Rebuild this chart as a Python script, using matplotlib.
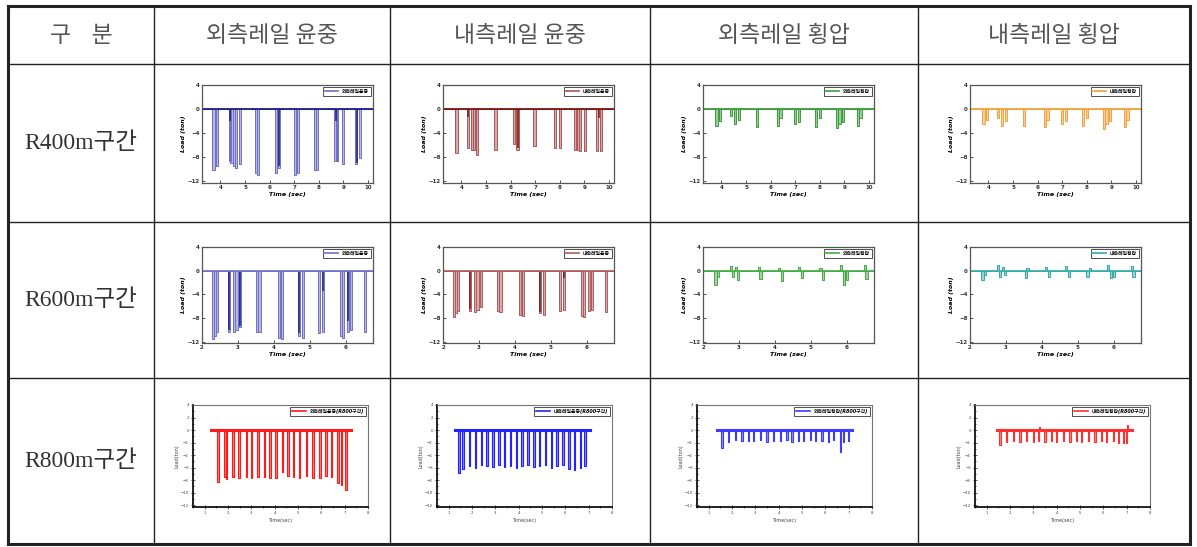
import matplotlib
matplotlib.use("Agg")
import matplotlib.pyplot as plt
from matplotlib.ticker import MultipleLocator

plt.rcParams['font.family'] = ['DejaVu Sans', 'Noto Sans CJK KR']

# --- TABLE TEXT ---
col_headers = ['구    분', '외측레일 윤중', '내측레일 윤중', '외측레일 횡압', '내측레일 횡압']
row_headers = ['R400m구간', 'R600m구간', 'R800m구간']
legend_labels = [
    ['외측레일윤중', '내측레일윤중', '외측레일횡압', '내측레일횡압'],
    ['외측레일윤중', '내측레일윤중', '외측레일횡압', '내측레일횡압'],
    ['외측레일윤중(R800구간)', '내측레일윤중(R800구간)', '외측레일횡압(R800구간)', '내측레일횡압(R800구간)'],
]

# --- DATA: spike times (sec) and peak loads (ton) ---
# R400
r400_out_t = [3.72, 3.86, 4.38, 4.45, 4.55, 4.62, 4.78, 5.45, 5.52, 6.27, 6.37, 7.02, 7.15,
              7.85, 7.93, 8.68, 8.75, 8.97, 9.52, 9.66]
r400_out_d = [-10.2, -9.6, -8.8, -9.0, -9.6, -9.9, -9.3, -10.8, -11.1, -10.8, -9.9, -11.1, -10.8,
              -10.2, -10.2, -8.8, -8.8, -9.3, -9.3, -8.2]
r400_out_core_t = [4.38, 6.37, 8.70, 9.54]
r400_out_core_d = [-2.0, -9.6, -2.0, -9.0]

r400_in_t = [3.80, 4.28, 4.42, 4.50, 4.62, 5.38, 6.14, 6.28, 6.97, 7.80, 8.00, 8.62, 8.75,
             8.83, 9.03, 9.52, 9.66]
r400_in_d = [-7.4, -6.5, -6.8, -6.8, -7.7, -6.8, -5.9, -6.8, -6.2, -6.5, -6.5, -6.8, -6.8,
             -7.1, -7.1, -7.1, -7.1]
r400_in_core_t = [4.28, 6.28, 9.60]
r400_in_core_d = [-1.4, -6.6, -1.5]

r400_olat_t = [3.80, 3.95, 4.40, 4.55, 4.70, 5.45, 6.30, 6.40, 7.00, 7.15, 7.85, 8.00, 8.70,
               8.80, 8.95, 9.55, 9.65]
r400_olat_d = [-2.8, -2.0, -1.2, -2.6, -1.8, -3.0, -2.8, -1.6, -2.6, -2.2, -3.0, -1.5, -3.2,
               -2.6, -2.2, -2.8, -1.6]

r400_ilat_t = [3.80, 3.95, 4.40, 4.55, 4.70, 5.45, 6.30, 6.40, 7.00, 7.15, 7.85, 8.00, 8.70,
               8.80, 8.95, 9.55, 9.65]
r400_ilat_d = [-2.6, -1.8, -1.5, -2.8, -2.0, -2.8, -3.0, -1.8, -2.5, -2.0, -2.8, -1.6, -3.3,
               -2.5, -2.0, -3.0, -1.8]

# R600
r600_out_t = [2.30, 2.36, 2.42, 2.75, 2.90, 2.96, 3.06, 3.53, 3.60, 4.14, 4.22, 4.69, 4.81,
              5.25, 5.37, 5.86, 5.93, 6.06, 6.15, 6.53]
r600_out_d = [-11.6, -11.0, -10.3, -10.3, -10.3, -10.0, -9.5, -10.3, -10.3, -11.3, -11.5, -11.0, -11.3,
              -10.5, -10.3, -11.0, -11.3, -10.3, -10.0, -10.3]
r600_out_core_t = [2.75, 3.06, 4.69, 5.37, 6.06]
r600_out_core_d = [-10.0, -9.3, -10.5, -3.5, -8.5]

r600_in_t = [2.30, 2.36, 2.42, 2.75, 2.90, 2.96, 3.06, 3.53, 3.60, 4.14, 4.22, 4.69, 4.81,
             5.25, 5.37, 5.86, 5.93, 6.06, 6.15, 6.53]
r600_in_d = [-7.8, -7.2, -6.8, -6.8, -7.0, -6.6, -6.2, -6.8, -7.0, -7.5, -7.6, -7.2, -7.4,
             -6.8, -6.6, -7.6, -7.8, -6.8, -6.6, -7.0]
r600_in_core_t = [2.75, 4.69, 5.37]
r600_in_core_d = [-6.5, -7.0, -1.2]

r600_olat_t = [2.35, 2.42, 2.78, 2.83, 2.92, 2.98, 3.55, 3.60, 4.12, 4.20, 4.68, 4.75, 5.27,
               5.35, 5.85, 5.92, 6.02, 6.50, 6.55]
r600_olat_d = [-2.4, -1.0, 0.8, -1.0, 0.6, -1.5, 0.6, -1.4, 0.5, -1.8, 0.6, -1.2, 0.4,
               -1.5, 0.9, -2.4, -1.6, 1.0, -1.4]

r600_ilat_t = [2.35, 2.42, 2.78, 2.83, 2.92, 2.98, 3.55, 3.60, 4.12, 4.20, 4.68, 4.75, 5.27,
               5.35, 5.85, 5.92, 6.02, 6.50, 6.55]
r600_ilat_d = [-1.6, -0.8, 0.9, -1.0, 0.6, -0.8, -1.2, 0.5, 0.6, -1.0, 0.8, -1.0, -1.0,
               0.4, 0.9, -1.2, -1.0, 0.8, -1.0]

# R800
r800_out_t = [1.57, 1.86, 1.93, 2.21, 2.47, 2.79, 3.00, 3.29, 3.57, 3.81, 4.07, 4.33, 4.57,
              4.81, 5.07, 5.36, 5.64, 5.93, 6.19, 6.43, 6.71, 6.86, 7.07]
r800_out_d = [-8.3, -7.5, -7.8, -7.5, -7.6, -7.5, -7.6, -7.5, -7.5, -7.6, -7.6, -6.7, -7.4,
              -7.5, -7.6, -7.4, -7.6, -7.6, -7.4, -7.5, -8.5, -8.8, -9.6]

r800_in_t = [1.45, 1.62, 1.90, 2.15, 2.40, 2.65, 2.90, 3.15, 3.40, 3.65, 3.90, 4.15, 4.40,
             4.65, 4.90, 5.15, 5.40, 5.65, 5.90, 6.15, 6.40, 6.65, 6.85]
r800_in_d = [-6.8, -6.2, -5.8, -6.0, -5.6, -5.8, -5.9, -5.6, -5.9, -5.7, -6.0, -5.7, -5.6,
             -5.9, -5.8, -5.6, -6.0, -5.8, -5.6, -6.2, -6.4, -6.0, -5.8]

r800_olat_t = [1.57, 1.86, 2.14, 2.43, 2.71, 2.93, 3.21, 3.50, 3.79, 4.07, 4.36, 4.57, 4.86,
               5.07, 5.36, 5.57, 5.86, 6.14, 6.36, 6.64, 6.79, 7.00]
r800_olat_d = [-2.9, -1.9, -1.6, -1.8, -1.7, -1.8, -1.6, -1.9, -1.7, -1.8, -1.6, -1.9, -1.7,
               -1.8, -1.6, -1.8, -1.7, -1.9, -1.6, -3.5, -1.9, -1.7]

r800_ilat_t = [1.57, 1.86, 2.14, 2.43, 2.71, 3.00, 3.21, 3.25, 3.50, 3.79, 4.00, 4.29, 4.57,
               4.86, 5.07, 5.36, 5.64, 5.93, 6.14, 6.43, 6.64, 6.86, 7.00, 7.05]
r800_ilat_d = [-2.4, -1.9, -1.8, -1.9, -1.7, -1.9, -1.8, 0.5, -1.9, -1.7, -1.9, -1.8, -1.9,
               -1.7, -1.9, -1.8, -1.9, -1.7, -1.9, -1.8, -2.1, -2.1, -2.0, 0.8]

# --- LAYOUT (pixels of a 1197x547 canvas) ---
W, H = 1197, 547
col_x = [8, 154, 390, 650, 918, 1190]
row_y = [6, 64, 222, 378, 544]


def add_px_axes(fig, x0, y0, w, h):
    return fig.add_axes([x0 / W, 1 - (y0 + h) / H, w / W, h / H])


def spike_line(t0, t1, times, depths, w):
    xs, ys = [t0], [0.0]
    for t, d in sorted(zip(times, depths)):
        xs += [t - w / 2, t - w / 2, t + w / 2, t + w / 2]
        ys += [0.0, d, d, 0.0]
    xs.append(t1)
    ys.append(0.0)
    return xs, ys


def style_small(ax, xlim, xticks, ylim):
    ax.set_xlim(*xlim)
    ax.set_ylim(*ylim)
    ax.set_xticks(xticks)
    ax.set_yticks([4, 0, -4, -8, -12])
    ax.tick_params(direction='in', length=2, width=0.6, labelsize=4, pad=1.5, colors='#333333')
    for lab in ax.get_xticklabels() + ax.get_yticklabels():
        lab.set_fontweight('bold')
    for s in ax.spines.values():
        s.set_color('#555555')
        s.set_linewidth(0.9)
    ax.set_xlabel('Time (sec)', fontsize=4.5, fontweight='bold', style='italic', labelpad=1.5)
    ax.set_ylabel('Load (ton)', fontsize=4.5, fontweight='bold', style='italic', labelpad=1)


def style_r800(ax):
    ax.set_xlim(0.5, 8.0)
    ax.set_ylim(-12.3, 4.0)
    ax.xaxis.set_major_locator(MultipleLocator(1))
    ax.xaxis.set_minor_locator(MultipleLocator(0.5))
    ax.yaxis.set_major_locator(MultipleLocator(2))
    ax.yaxis.set_minor_locator(MultipleLocator(1))
    ax.tick_params(which='both', direction='inout', width=0.6, labelsize=2.8, pad=1.5, colors='#444444')
    ax.tick_params(which='major', length=3)
    ax.tick_params(which='minor', length=1.5)
    for side in ['left', 'bottom']:
        ax.spines[side].set_color('#111111')
        ax.spines[side].set_linewidth(1.3)
    for side in ['top', 'right']:
        ax.spines[side].set_color('#777777')
        ax.spines[side].set_linewidth(0.8)
    ax.set_xlabel('Time(sec)', fontsize=3.5, color='#444444', labelpad=2)
    ax.set_ylabel('Load(ton)', fontsize=3.5, color='#444444', labelpad=1)


def add_legend(ax, label, color):
    ax.plot([], [], color=color, lw=1.2, label=label)
    leg = ax.legend(loc='upper right', fontsize=3.5, frameon=True, fancybox=False,
                    handlelength=2.8, borderpad=0.35, borderaxespad=0.5,
                    prop={'family': ['DejaVu Sans', 'Noto Sans CJK KR'], 'size': 3.5,
                          'weight': 'bold', 'style': 'italic'})
    leg.get_frame().set_edgecolor('#222222')
    leg.get_frame().set_linewidth(0.7)


fig = plt.figure(figsize=(W / 100, H / 100), dpi=100)

# --- TABLE GRID AND TEXT ---
tab = fig.add_axes([0, 0, 1, 1], zorder=0)
tab.set_xlim(0, W)
tab.set_ylim(H, 0)
tab.axis('off')
for i, x in enumerate(col_x):
    lw = 2.2 if i in (0, len(col_x) - 1) else 1.0
    tab.plot([x, x], [row_y[0], row_y[-1]], color='#222222', lw=lw, solid_capstyle='projecting')
for i, y in enumerate(row_y):
    lw = 2.2 if i in (0, len(row_y) - 1) else 1.0
    tab.plot([col_x[0], col_x[-1]], [y, y], color='#222222', lw=lw, solid_capstyle='projecting')

for i, txt in enumerate(col_headers):
    cx = (col_x[i] + col_x[i + 1]) / 2
    tab.text(cx, (row_y[0] + row_y[1]) / 2 + 1, txt, ha='center', va='center', fontsize=16.5,
             color='#555555', family=['Noto Sans CJK KR'], fontweight='light')
for j, txt in enumerate(row_headers):
    cy = (row_y[j + 1] + row_y[j + 2]) / 2
    tab.text((col_x[0] + col_x[1]) / 2, cy, txt, ha='center', va='center', fontsize=17,
             color='#333333', family=['Liberation Serif', 'Noto Sans CJK KR'])

# --- SMALL CHARTS ---
small_x = [202, 443, 703, 970]
r400_sets = [
    (r400_out_t, r400_out_d, r400_out_core_t, r400_out_core_d, '#7070c4', '#1c1c86'),
    (r400_in_t, r400_in_d, r400_in_core_t, r400_in_core_d, '#ad5757', '#7a1212'),
    (r400_olat_t, r400_olat_d, [], [], '#3c9c3c', None),
    (r400_ilat_t, r400_ilat_d, [], [], '#f2a23c', None),
]
r600_sets = [
    (r600_out_t, r600_out_d, r600_out_core_t, r600_out_core_d, '#7070c4', '#1c1c90'),
    (r600_in_t, r600_in_d, r600_in_core_t, r600_in_core_d, '#ad5c5c', '#801414'),
    (r600_olat_t, r600_olat_d, [], [], '#44aa44', None),
    (r600_ilat_t, r600_ilat_d, [], [], '#34aaaa', None),
]

for k, (t, d, ct, cd, col, core) in enumerate(r400_sets):
    ax = add_px_axes(fig, small_x[k], 85, 171, 98)
    xs, ys = spike_line(3.25, 10.2, t, d, 0.09)
    ax.fill(xs, ys, color=col, alpha=0.5, lw=0)
    ax.plot(xs, ys, color=col, lw=0.7)
    if core:
        ax.vlines(ct, 0, cd, color=core, lw=1.1)
    ax.axhline(0, color=core or col, lw=1.3)
    style_small(ax, (3.25, 10.2), [4, 5, 6, 7, 8, 9, 10], (-12.4, 4))
    add_legend(ax, legend_labels[0][k], col)

for k, (t, d, ct, cd, col, core) in enumerate(r600_sets):
    ax = add_px_axes(fig, small_x[k], 247, 171, 96)
    xs, ys = spike_line(2.0, 6.76, t, d, 0.06)
    ax.fill(xs, ys, color=col, alpha=0.5, lw=0)
    ax.plot(xs, ys, color=col, lw=0.7)
    if core:
        ax.vlines(ct, 0, cd, color=core, lw=1.1)
    ax.axhline(0, color=col, lw=1.2)
    style_small(ax, (2.0, 6.76), [2, 3, 4, 5, 6], (-12.2, 4))
    add_legend(ax, legend_labels[1][k], col)

# row 3
r800_x = [193, 437, 697, 975]
r800_sets = [
    (r800_out_t, r800_out_d, 1.29, 7.29, '#ff1a1a', 0.07),
    (r800_in_t, r800_in_d, 1.27, 7.07, '#2323ff', 0.06),
    (r800_olat_t, r800_olat_d, 1.36, 7.14, '#3c3cff', 0.05),
    (r800_ilat_t, r800_ilat_d, 1.43, 7.21, '#ff3030', 0.05),
]
for k, (t, d, t0, t1, col, w) in enumerate(r800_sets):
    ax = add_px_axes(fig, r800_x[k], 405, 175, 102)
    xs, ys = spike_line(t0, t1, t, d, w)
    ax.fill(xs, ys, color=col, alpha=0.55, lw=0)
    ax.plot(xs, ys, color=col, lw=0.8)
    ax.plot([t0, t1], [0, 0], color=col, lw=2.2)
    style_r800(ax)
    add_legend(ax, legend_labels[2][k], col)

fig.savefig('out.png', dpi=100, facecolor='white')
